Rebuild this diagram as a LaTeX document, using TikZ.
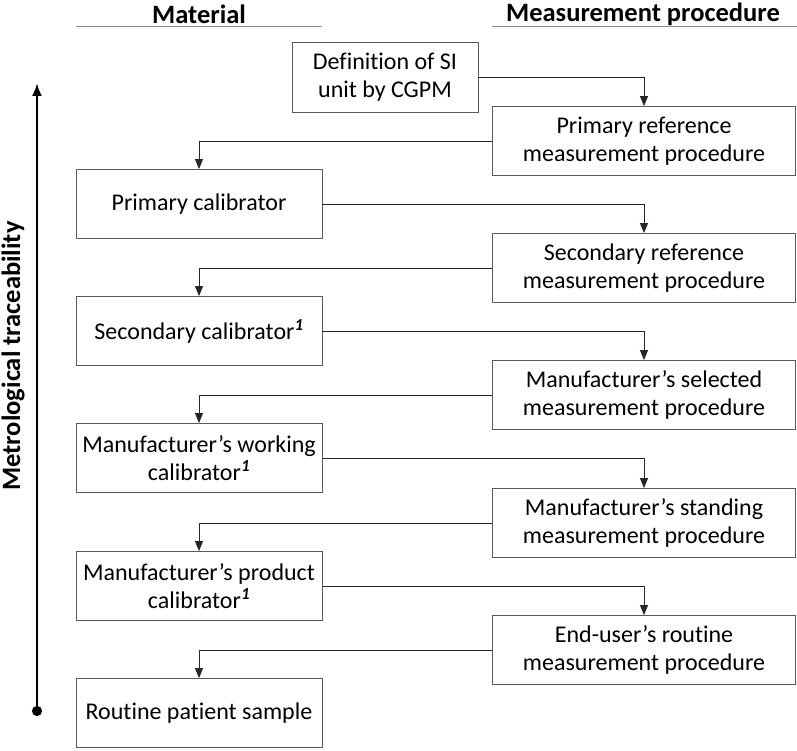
\documentclass[tikz,border=0pt]{standalone}
\usepackage{fontspec}
\setmainfont{Carlito}[Ligatures=NoCommon]
\usetikzlibrary{arrows.meta,positioning}

\newcommand{\fnmark}{\textsuperscript{\textbf{\textit{1}}}}

\begin{document}
\begin{tikzpicture}[
    x=1pt, y=-1pt,
    >={Triangle[length=10pt,width=8pt]},
    txt/.style={font=\fontsize{24}{28}\selectfont, align=center, inner sep=0pt},
    matbox/.style={txt, rectangle, draw=black!65, line width=0.8pt, minimum width=246pt, minimum height=69pt},
    procbox/.style={txt, rectangle, draw=black!65, line width=0.8pt, minimum width=303pt, minimum height=69pt},
    head/.style={font=\fontsize{26.5}{30}\selectfont\bfseries, inner sep=0pt},
    link/.style={->, line width=0.8pt, black!85},
    rule/.style={line width=1pt, black!45}
]
\useasboundingbox (0,0) rectangle (797,751);

% Headers
\node[head] (mathead) at (199,14) {Material};
\node[head] (prochead) at (643,14) {Measurement procedure};

% Definition box
\node[txt, rectangle, draw=black!65, line width=0.8pt, minimum width=186pt, minimum height=70pt] (def) at (385,77) {Definition of SI\\unit by CGPM};

% Material column
\node[matbox] (pcal) at (199,204) {Primary calibrator};
\node[matbox] (scal) at (199,331) {Secondary calibrator\fnmark};
\node[matbox] (wcal) at (199,458) {Manufacturer’s working\\calibrator\fnmark};
\node[matbox] (prcal) at (199,586) {Manufacturer’s product\\calibrator\fnmark};
\node[matbox] (sample) at (199,713) {Routine patient sample};

% Procedure column
\node[procbox] (pref) at (644,141) {Primary reference\\measurement procedure};
\node[procbox] (sref) at (644,268) {Secondary reference\\measurement procedure};
\node[procbox] (msel) at (644,395) {Manufacturer’s selected\\measurement procedure};
\node[procbox] (mstd) at (644,523) {Manufacturer’s standing\\measurement procedure};
\node[procbox] (euser) at (644,650) {End-user’s routine\\measurement procedure};

% Header rules
\draw[rule] (pcal.west |- 0,27) -- (pcal.east |- 0,27);
\draw[rule] (pref.west |- 0,27) -- (797,27);

% Traceability chain
\draw[link] (def.east) -| (pref.north);
\draw[link] (pref.west) -| (pcal.north);
\draw[link] (pcal.east) -| (sref.north);
\draw[link] (sref.west) -| (scal.north);
\draw[link] (scal.east) -| (msel.north);
\draw[link] (msel.west) -| (wcal.north);
\draw[link] (wcal.east) -| (mstd.north);
\draw[link] (mstd.west) -| (prcal.north);
\draw[link] (prcal.east) -| (euser.north);
\draw[link] (euser.west) -| (sample.north);

% Traceability axis
\coordinate (axbot) at (37,716);
\coordinate (axtop) at (37,83);
\draw[line width=2.5pt, {Circle[length=10pt]}-{Latex[length=13pt,width=10pt]}] (axbot) -- (axtop);
\node[head, rotate=90] (axlabel) at (13,356) {Metrological traceability};

\end{tikzpicture}
\end{document}
